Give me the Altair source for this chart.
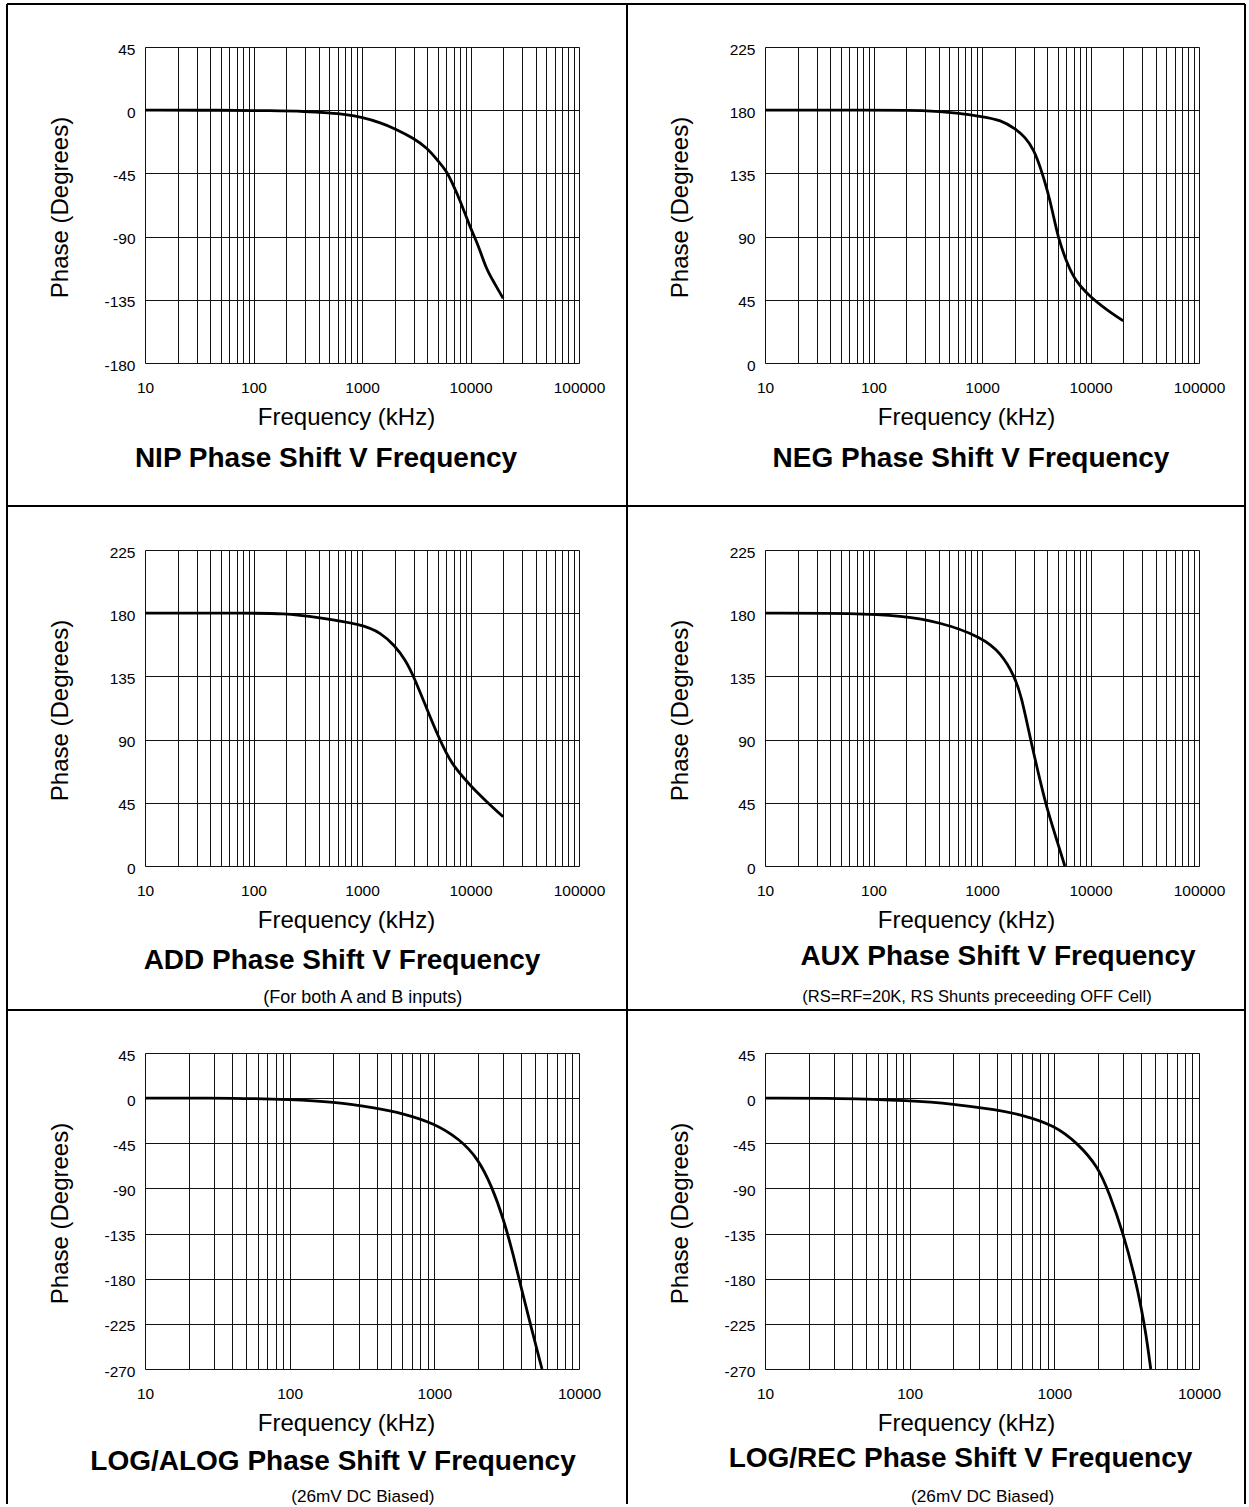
import altair as alt
import pandas as pd

# ---------------- data ----------------
NIP_F = [10, 50, 150, 300, 500, 700, 1000, 1500, 2000, 3000, 4000, 5000, 6000, 7000, 8000, 10000, 11000, 12000, 14000, 16000, 20000]
NIP_P = [0, 0, -0.3, -0.8, -2, -3, -5, -9, -13, -20, -27, -36, -43, -54, -64, -84, -91, -98, -113, -121, -134]

NEG_F = [10, 100, 300, 600, 1000, 1500, 2000, 2500, 3000, 3500, 4000, 4500, 5000, 6000, 7000, 8000, 10000, 13000, 16000, 20000]
NEG_P = [180, 180, 180, 178, 175.5, 173, 167, 161, 152, 138, 123, 107, 90, 72, 61, 55, 47, 40, 35, 30]

ADD_F = [10, 100, 180, 400, 1000, 1500, 2000, 2500, 3000, 4000, 5000, 6000, 7000, 10000, 14000, 20000]
ADD_P = [180, 180, 180, 177, 172, 166, 157, 147, 135, 111, 93, 80, 71, 57, 46, 35]

AUX_F = [10, 70, 180, 400, 1000, 1500, 2000, 2300, 2700, 3000, 3500, 4000, 5000, 5800]
AUX_P = [180, 180, 178, 174, 163, 151.5, 135, 121, 96, 80, 58, 40, 16, 0]

ALOG_F = [10, 46, 100, 200, 400, 600, 1000, 1500, 2000, 2500, 3000, 3500, 4000, 4700, 5550]
ALOG_P = [0, 0, -1.3, -3.6, -10, -15, -25, -41, -60, -88, -120, -155, -190, -230, -270]

REC_F = [10, 33, 100, 200, 400, 600, 1000, 1450, 2000, 2400, 3000, 3600, 4000, 4300, 4640]
REC_P = [0, 0, -2.3, -5.7, -11.7, -16.7, -27, -45, -68, -95, -135, -178, -210, -235, -270]

TITLES = ["NIP Phase Shift V Frequency", "NEG Phase Shift V Frequency",
          "ADD Phase Shift V Frequency", "AUX Phase Shift V Frequency",
          "LOG/ALOG Phase Shift V Frequency", "LOG/REC Phase Shift V Frequency"]
SUBTITLES = ["", "", "(For both A and B inputs)",
             "(RS=RF=20K, RS Shunts preceeding OFF Cell)",
             "(26mV DC Biased)", "(26mV DC Biased)"]
Y_DOMAINS = [(-180, 45), (0, 225), (0, 225), (0, 225), (-270, 45), (-270, 45)]
X_MAX = [100000, 100000, 100000, 100000, 10000, 10000]
SERIES = [(NIP_F, NIP_P), (NEG_F, NEG_P), (ADD_F, ADD_P),
          (AUX_F, AUX_P), (ALOG_F, ALOG_P), (REC_F, REC_P)]
X_TITLE = "Frequency (kHz)"
Y_TITLE = "Phase (Degrees)"

# ---------------- layout / style ----------------
W, H = 434, 316
FONT = "Liberation Sans"
TITLE_POS = [(181, 420), (206, 420), (197, 419), (233, 415), (188, 417), (195.5, 414)]
SUB_POS = [(217, 452), (217, 452), (217.7, 452.7), (212, 451.7), (217.8, 449), (217.7, 449)]
SUB_SIZE = [17, 17, 18, 16.5, 17.2, 17.2]
BORDER_TOP = [-43, -44, -43]
BORDER_BOTTOM = [459, 460, 451]
BORDER_LEFT = -138
BORDER_RIGHT = [482, 480]
INK = "#111111"


def one_row():
    return pd.DataFrame({"k": [0]})


def panel(i):
    row, col = divmod(i, 2)
    f, p = SERIES[i]
    ymin, ymax = Y_DOMAINS[i]
    xmax = X_MAX[i]
    ndec = len(str(xmax)) - 1
    decades = [10 ** k for k in range(1, ndec + 1)]
    grid = [m * 10 ** k for k in range(1, ndec) for m in range(1, 10)] + [xmax]
    dec_list = ",".join(str(d) for d in decades)

    df = pd.DataFrame({"f": f, "p": p})
    x_axis = alt.Axis(
        values=grid, format="d",
        labelExpr=f"indexof([{dec_list}], datum.value) >= 0 ? datum.label : ''",
        grid=True, gridColor=INK, gridWidth=1, gridOpacity=1,
        ticks=False, tickSize=0, domain=False,
        labelFlush=False, labelOverlap=False, labelPadding=17.5,
        labelFontSize=15.5, labelColor="black", labelFont=FONT,
        title=X_TITLE, titleX=201, titleY=61, titleAlign="center",
        titleBaseline="alphabetic", titleFontSize=24, titleFontWeight="normal",
        titleColor="black", titleFont=FONT,
    )
    y_axis = alt.Axis(
        values=list(range(ymin, ymax + 1, 45)),
        labelExpr="'' + datum.value",
        grid=True, gridColor=INK, gridWidth=1, gridOpacity=1,
        ticks=False, tickSize=0, domain=False,
        labelPadding=10, labelFontSize=15.5, labelColor="black", labelFont=FONT,
        labelBaseline="middle", labelOffset=2,
        title=Y_TITLE, titleX=-78, titleY=160, titleAngle=-90,
        titleAlign="center", titleBaseline="alphabetic",
        titleFontSize=24, titleFontWeight="normal", titleColor="black", titleFont=FONT,
    )
    line = alt.Chart(df).mark_line(color="black", strokeWidth=2.8, interpolate="basis").encode(
        x=alt.X("f:Q", scale=alt.Scale(type="log", domain=[10, xmax], nice=False), axis=x_axis),
        y=alt.Y("p:Q", scale=alt.Scale(domain=[ymin, ymax], nice=False, zero=False), axis=y_axis),
    )

    top = BORDER_TOP[row]
    bot = BORDER_BOTTOM[row]
    layers = []
    layers.append(alt.Chart(one_row()).mark_rule(color="black", strokeWidth=2).encode(
        x=alt.value(BORDER_LEFT), x2=alt.value(BORDER_RIGHT[col]), y=alt.value(top)))
    layers.append(alt.Chart(one_row()).mark_rule(color="black", strokeWidth=2).encode(
        x=alt.value(BORDER_LEFT), y=alt.value(top), y2=alt.value(bot)))
    if col == 1:
        layers.append(alt.Chart(one_row()).mark_rule(color="black", strokeWidth=2).encode(
            x=alt.value(BORDER_RIGHT[1]), y=alt.value(top), y2=alt.value(bot)))
    layers.append(line)
    tx, ty = TITLE_POS[i]
    layers.append(alt.Chart(one_row()).mark_text(
        text=TITLES[i], font=FONT, fontSize=28, fontWeight="bold", color="black",
        align="center", baseline="alphabetic").encode(x=alt.value(tx), y=alt.value(ty)))
    if SUBTITLES[i]:
        sx, sy = SUB_POS[i]
        layers.append(alt.Chart(one_row()).mark_text(
            text=SUBTITLES[i], font=FONT, fontSize=SUB_SIZE[i], color="black",
            align="center", baseline="alphabetic").encode(x=alt.value(sx), y=alt.value(sy)))
    return alt.layer(*layers).properties(width=W, height=H)


chart = alt.concat(
    *[panel(i) for i in range(6)], columns=2,
    spacing={"row": 187, "column": 186}, bounds="flush",
).properties(
    padding={"left": 5, "top": 2, "right": 0, "bottom": 0},
    background="white",
).configure_view(
    stroke="black", strokeWidth=2,
).configure(font=FONT)

chart.save("out.html", embed_options={"renderer": "svg", "actions": False})
